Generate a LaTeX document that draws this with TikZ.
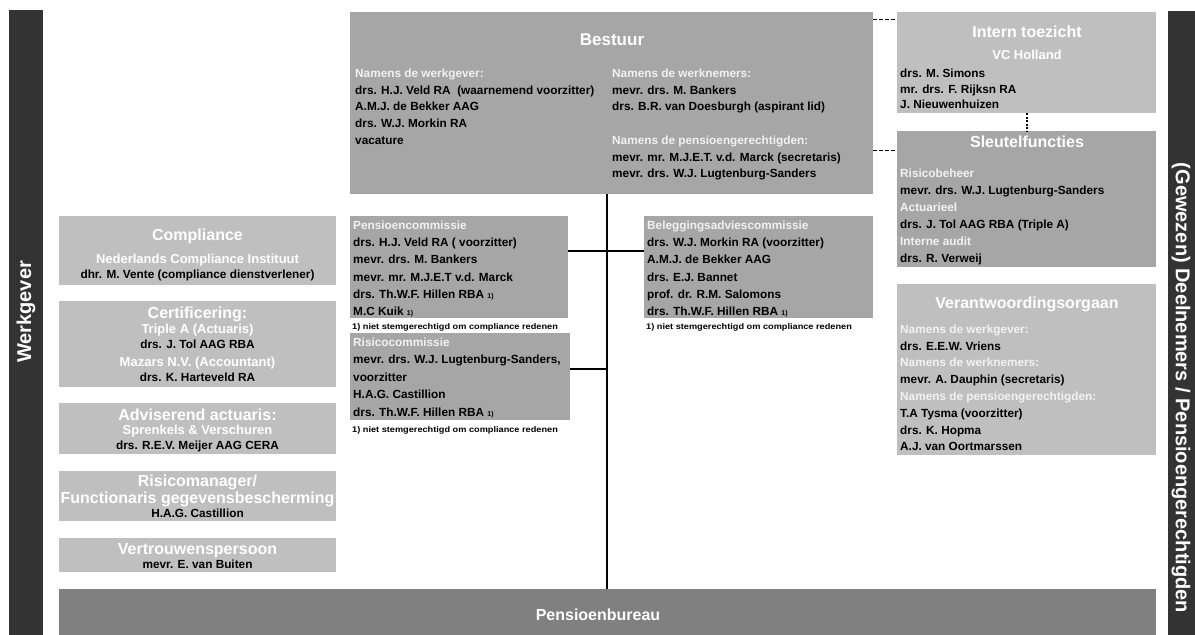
\documentclass[tikz,border=0pt]{standalone}
\usepackage{fontspec}
\setmainfont{Liberation Sans}
\definecolor{gA}{HTML}{A6A6A6}
\definecolor{gB}{HTML}{BFBFBF}
\definecolor{gC}{HTML}{808080}
\definecolor{gD}{HTML}{333333}
\definecolor{hdrc}{HTML}{F2F2F2}
\newcommand\bodyfont{\bfseries\fontsize{11.8}{14}\selectfont}
\newcommand\titlefont{\bfseries\fontsize{16}{19}\selectfont}
\newcommand\bigtitlefont{\bfseries\fontsize{17}{20}\selectfont}
\newcommand\subfont{\bfseries\fontsize{13}{15}\selectfont}
\newcommand\fnfont{\bfseries\fontsize{8.2}{10}\selectfont}
\newcommand\barfont{\bfseries\fontsize{20}{23}\selectfont}
\newcommand\smallone{{\fontsize{7}{8}\selectfont 1)}}
\newcommand\fntext{\scalebox{1.12}[1]{1) niet stemgerechtigd om compliance redenen}}
\newcounter{tn}
\newcommand\putt[3]{\stepcounter{tn}\node[#1] (t\arabic{tn}) at (#2) {#3};}
\tikzset{
  box/.style={inner sep=0, outer sep=0, anchor=north west, draw=none},
  tx/.style={inner sep=0, anchor=base west, font=\bodyfont, text=black},
  hd/.style={tx, text=hdrc},
  ttl/.style={inner sep=0, anchor=base, font=\titlefont, text=white},
  sub/.style={inner sep=0, anchor=base, font=\subfont, text=white},
  ctx/.style={inner sep=0, anchor=base, font=\bodyfont, text=black},
  fn/.style={inner sep=0, anchor=base west, font=\fnfont, text=black},
  conn/.style={line width=1.8pt, black},
  dashline/.style={line width=1pt, black, dash pattern=on 4pt off 2pt},
  dotline/.style={line width=1.3pt, black, dash pattern=on 2pt off 1.5pt},
  bartext/.style={inner sep=0, font=\barfont, text=white},
}
\begin{document}
\begin{tikzpicture}[x=1pt,y=-1pt]
\useasboundingbox (0,0) rectangle (1195,635);
% side bars
\node[box, fill=gD, minimum width=34, minimum height=625] (lbar) at (9,10) {};
\node[box, fill=gD, minimum width=27, minimum height=624] (rbar) at (1168,11) {};
\node[bartext, rotate=90] (wg) at (26,312) {Werkgever};
\node[bartext, rotate=-90] (dn) at (1181,388) {(Gewezen) Deelnemers / Pensioengerechtigden};
% boxes
\node[box, fill=gA, minimum width=523, minimum height=182] (bestuur) at (350,12) {};
\node[box, fill=gB, minimum width=259, minimum height=101] (intern) at (897,12) {};
\node[box, fill=gA, minimum width=259, minimum height=136] (sleutel) at (897,131) {};
\node[box, fill=gB, minimum width=259, minimum height=171] (verant) at (897,284) {};
\node[box, fill=gA, minimum width=218, minimum height=102] (pc) at (350,216) {};
\node[box, fill=gA, minimum width=220, minimum height=87] (rc) at (350,333) {};
\node[box, fill=gA, minimum width=229, minimum height=102] (bc) at (644,216) {};
\node[box, fill=gB, minimum width=277, minimum height=69] (comp) at (59,216) {};
\node[box, fill=gB, minimum width=277, minimum height=86] (cert) at (59,301) {};
\node[box, fill=gB, minimum width=277, minimum height=51] (advis) at (59,403) {};
\node[box, fill=gB, minimum width=277, minimum height=50] (risman) at (59,471) {};
\node[box, fill=gB, minimum width=277, minimum height=34] (vertr) at (59,538) {};
\node[box, fill=gC, minimum width=1097, minimum height=46] (pb) at (59,589) {};
% connectors
\coordinate (vx) at (607,0);
\coordinate (h1) at (0,251);
\coordinate (h2) at (0,369);
\coordinate (d1) at (0,19);
\coordinate (d2) at (0,150);
\coordinate (dx) at (1027,0);
\draw[conn] (bestuur.south -| vx) -- (pb.north -| vx);
\draw[conn] (pc.east |- h1) -- (bc.west |- h1);
\draw[conn] (rc.east |- h2) -- (vx |- h2);
\draw[dashline] (bestuur.east |- d1) -- (intern.west |- d1);
\draw[dashline] (bestuur.east |- d2) -- (sleutel.west |- d2);
\draw[dotline] (intern.south -| dx) -- (sleutel.north -| dx);
% Bestuur
\putt{ttl, font=\bigtitlefont}{612,45}{Bestuur}
\putt{hd}{355,77}{Namens de werkgever:}
\putt{tx}{355,94}{drs. H.J. Veld RA\ \ (waarnemend voorzitter)}
\putt{tx}{355,110.5}{A.M.J. de Bekker AAG}
\putt{tx}{355,127}{drs. W.J. Morkin RA}
\putt{tx}{355,144}{vacature}
\putt{hd}{612,77}{Namens de werknemers:}
\putt{tx}{612,94}{mevr. drs. M. Bankers}
\putt{tx}{612,110.5}{drs. B.R. van Doesburgh (aspirant lid)}
\putt{hd}{612,144}{Namens de pensioengerechtigden:}
\putt{tx}{612,161}{mevr. mr. M.J.E.T. v.d. Marck (secretaris)}
\putt{tx}{612,177.5}{mevr. drs. W.J. Lugtenburg-Sanders}
% Intern toezicht
\putt{ttl}{1027,37}{Intern toezicht}
\putt{sub}{1027,59}{VC Holland}
\putt{tx}{900,77}{drs. M. Simons}
\putt{tx}{900,93}{mr. drs. F. Rijksn RA}
\putt{tx}{900,108}{J. Nieuwenhuizen}
% Sleutelfuncties
\putt{ttl}{1027,147}{Sleutelfuncties}
\putt{hd}{900,177}{Risicobeheer}
\putt{tx}{900,194}{mevr. drs. W.J. Lugtenburg-Sanders}
\putt{hd}{900,211}{Actuarieel}
\putt{tx}{900,228}{drs. J. Tol AAG RBA (Triple A)}
\putt{hd}{900,245}{Interne audit}
\putt{tx}{900,262}{drs. R. Verweij}
% Verantwoordingsorgaan
\putt{ttl}{1027,308}{Verantwoordingsorgaan}
\putt{hd}{900,333}{Namens de werkgever:}
\putt{tx}{900,350}{drs. E.E.W. Vriens}
\putt{hd}{900,366}{Namens de werknemers:}
\putt{tx}{900,383}{mevr. A. Dauphin (secretaris)}
\putt{hd}{900,400}{Namens de pensioengerechtigden:}
\putt{tx}{900,417}{T.A Tysma (voorzitter)}
\putt{tx}{900,434}{drs. K. Hopma}
\putt{tx}{900,450}{A.J. van Oortmarssen}
% Pensioencommissie
\putt{hd}{353,229}{Pensioencommissie}
\putt{tx}{353,246}{drs. H.J. Veld RA ( voorzitter)}
\putt{tx}{353,263}{mevr. drs. M. Bankers}
\putt{tx}{353,281}{mevr. mr. M.J.E.T v.d. Marck}
\putt{tx}{353,298}{drs. Th.W.F. Hillen RBA \smallone}
\putt{tx}{353,315}{M.C Kuik \smallone}
\putt{fn}{352,329}{\fntext}
% Risicocommissie
\putt{hd}{353,346}{Risicocommissie}
\putt{tx}{353,363}{mevr. drs. W.J. Lugtenburg-Sanders,}
\putt{tx}{353,381}{voorzitter}
\putt{tx}{353,398}{H.A.G. Castillion}
\putt{tx}{353,416}{drs. Th.W.F. Hillen RBA \smallone}
\putt{fn}{352,432}{\fntext}
% Beleggingsadviescommissie
\putt{hd}{647,229}{Beleggingsadviescommissie}
\putt{tx}{647,246}{drs. W.J. Morkin RA (voorzitter)}
\putt{tx}{647,263}{A.M.J. de Bekker AAG}
\putt{tx}{647,281}{drs. E.J. Bannet}
\putt{tx}{647,298}{prof. dr. R.M. Salomons}
\putt{tx}{647,315}{drs. Th.W.F. Hillen RBA \smallone}
\putt{fn}{646,329}{\fntext}
% left boxes
\putt{ttl}{197.5,240}{Compliance}
\putt{sub}{197.5,263}{Nederlands Compliance Instituut}
\putt{ctx}{197.5,278}{dhr. M. Vente (compliance dienstverlener)}
\putt{ttl}{197.5,318}{Certificering:}
\putt{sub}{197.5,333}{Triple A (Actuaris)}
\putt{ctx}{197.5,348}{drs. J. Tol AAG RBA}
\putt{sub}{197.5,366}{Mazars N.V. (Accountant)}
\putt{ctx}{197.5,381}{drs. K. Harteveld RA}
\putt{ttl}{197.5,420}{Adviserend actuaris:}
\putt{sub}{197.5,434}{Sprenkels \& Verschuren}
\putt{ctx}{197.5,449}{drs. R.E.V. Meijer AAG CERA}
\putt{ttl}{197.5,486}{Risicomanager/}
\putt{ttl}{197.5,503}{Functionaris gegevensbescherming}
\putt{ctx}{197.5,517}{H.A.G. Castillion}
\putt{ttl}{197.5,554}{Vertrouwenspersoon}
\putt{ctx}{197.5,568}{mevr. E. van Buiten}
% bottom
\putt{ttl}{598,620}{Pensioenbureau}
\end{tikzpicture}
\end{document}
